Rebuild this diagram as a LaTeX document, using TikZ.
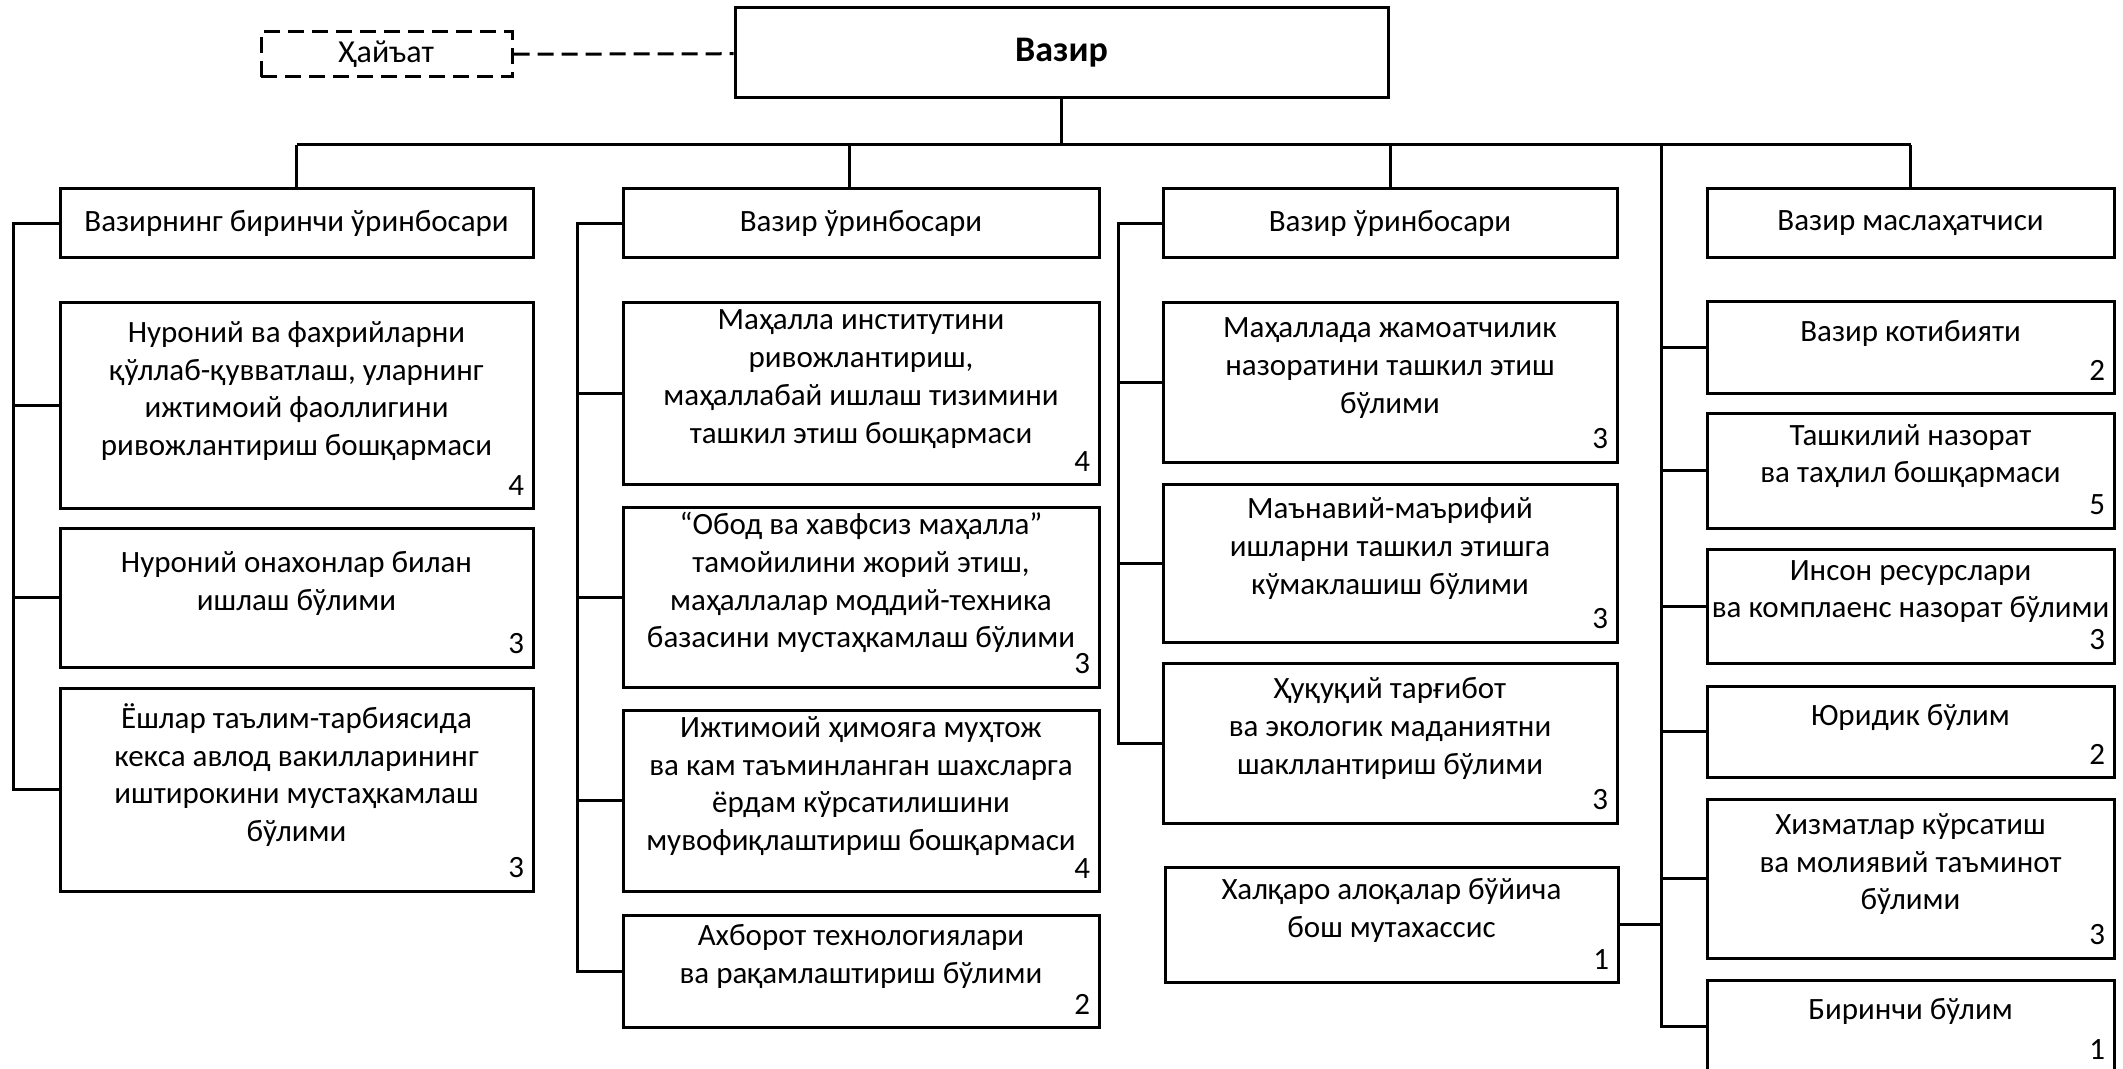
\documentclass[tikz,border=0pt]{standalone}
\usepackage{fontspec}
\setmainfont{Carlito}
\usetikzlibrary{positioning}

\newcommand{\unitsize}{\fontsize{15.5}{18.9}\selectfont}

\begin{document}
\begin{tikzpicture}[x=0.5pt,y=-0.5pt,
	unit/.style={draw, line width=1.5pt, align=center, inner sep=1.5pt, font=\unitsize},
	cnt/.style={label={[anchor=south east, inner xsep=5pt, inner ysep=7pt, font=\unitsize]south east:#1}},
	board/.style={draw, line width=1.5pt, dash pattern=on 8pt off 4pt, font=\fontsize{16}{19}\selectfont},
	link/.style={line width=1.5pt}]
		\useasboundingbox (0,0) rectangle (2123,1069);

		% top
		\draw (1061.5,53) node[unit, font=\fontsize{18}{21}\selectfont\bfseries, minimum width=326.5pt, minimum height=45pt] (vz) {Вазир}
		(386.5,54.5) node[board, minimum width=125.5pt, minimum height=22.5pt] (hy) {Ҳайъат};

		% deputies and advisor
		\draw (296.5,223.5) node[unit, minimum width=236.5pt, minimum height=34.5pt] (h1) {Вазирнинг биринчи ўринбосари}
		(861,223.5) node[unit, minimum width=238pt, minimum height=34.5pt] (h2) {Вазир ўринбосари}
		(1390,223.5) node[unit, minimum width=227pt, minimum height=34.5pt] (h3) {Вазир ўринбосари}
		(1910.5,223.5) node[unit, minimum width=203.5pt, minimum height=34.5pt] (h4) {Вазир маслаҳатчиси};

		% first deputy
		\draw (296.5,405.5) node[unit, cnt=4, minimum width=236.5pt, minimum height=102.5pt] (u11) {Нуроний ва фахрийларни\\қўллаб-қувватлаш, уларнинг\\ижтимоий фаоллигини\\ривожлантириш бошқармаси\\[-2pt]}
		(296.5,597.5) node[unit, cnt=3, minimum width=236.5pt, minimum height=69.5pt] (u12) {Нуроний онахонлар билан\\ишлаш бўлими\\[-2pt]}
		(296.5,789.5) node[unit, cnt=3, minimum width=236.5pt, minimum height=101.5pt] (u13) {Ёшлар таълим-тарбиясида\\кекса авлод вакилларининг\\иштирокини мустаҳкамлаш\\бўлими\\[-2pt]};

		% deputy
		\draw (861,393.5) node[unit, cnt=4, minimum width=238pt, minimum height=90.5pt] (u21) {Маҳалла институтини\\ривожлантириш,\\маҳаллабай ишлаш тизимини\\ташкил этиш бошқармаси\\[-2pt]}
		(861,597) node[unit, cnt=3, minimum width=238pt, minimum height=90pt] (u22) {“Обод ва хавфсиз маҳалла”\\тамойилини жорий этиш,\\маҳаллалар моддий-техника\\базасини мустаҳкамлаш бўлими\\[-2pt]}
		(861,800.5) node[unit, cnt=4, minimum width=238pt, minimum height=90.5pt] (u23) {Ижтимоий ҳимояга муҳтож\\ва кам таъминланган шахсларга\\ёрдам кўрсатилишини\\мувофиқлаштириш бошқармаси\\[-2pt]}
		(861,971) node[unit, cnt=2, minimum width=238pt, minimum height=56pt] (u24) {Ахборот технологиялари\\ва рақамлаштириш бўлими\\[-2pt]};

		% deputy
		\draw (1390,382.5) node[unit, cnt=3, minimum width=227pt, minimum height=79.5pt] (u31) {Маҳаллада жамоатчилик\\назоратини ташкил этиш\\бўлими\\[-2pt]}
		(1390,563) node[unit, cnt=3, minimum width=227pt, minimum height=79pt] (u32) {Маънавий-маърифий\\ишларни ташкил этишга\\кўмаклашиш бўлими\\[-2pt]}
		(1390,743) node[unit, cnt=3, minimum width=227pt, minimum height=80pt] (u33) {Ҳуқуқий тарғибот\\ва экологик маданиятни\\шакллантириш бўлими\\[-2pt]}
		(1391.5,924.5) node[unit, cnt=1, minimum width=226.5pt, minimum height=57.5pt] (u34) {Халқаро алоқалар бўйича\\бош мутахассис\\[-2pt]};

		% advisor
		\draw (1910.5,347.5) node[unit, cnt=2, minimum width=203.5pt, minimum height=45.5pt] (u41) {Вазир котибияти\\[-2pt]}
		(1910.5,470.5) node[unit, cnt=5, minimum width=203.5pt, minimum height=57.5pt] (u42) {Ташкилий назорат\\ва таҳлил бошқармаси\\[-2pt]}
		(1910.5,606) node[unit, cnt=3, minimum width=203.5pt, minimum height=57pt] (u43) {Инсон ресурслари\\ва комплаенс назорат бўлими\\[-2pt]}
		(1910.5,731.5) node[unit, cnt=2, minimum width=203.5pt, minimum height=45.5pt] (u44) {Юридик бўлим\\[-2pt]}
		(1910.5,878.5) node[unit, cnt=3, minimum width=203.5pt, minimum height=79.5pt] (u45) {Хизматлар кўрсатиш\\ва молиявий таъминот\\бўлими\\[-2pt]}
		(1910.5,1026) node[unit, cnt=1, minimum width=203.5pt, minimum height=46pt] (u46) {Биринчи бўлим\\[-2pt]};

		\coordinate (bus) at (1061.5,145);
		\coordinate (staff) at (1661,145);

		\draw[link, dash pattern=on 8pt off 4pt] (hy) -- (vz);
		\draw[link] (vz) -- (bus);
		\draw[link] (h1.north |- bus) -- (h4.north |- bus);
		\draw[link] (h1) -- (h1.north |- bus);
		\draw[link] ([xshift=-6pt]h2.north) -- ([xshift=-6pt]h2.north |- bus);
		\draw[link] (h3) -- (h3.north |- bus);
		\draw[link] (h4) -- (h4.north |- bus);

		\draw[link] (h1.west) -- ++(-45,0) |- (u13.west);
		\draw[link] (u11.west) -- ++(-45,0);
		\draw[link] (u12.west) -- ++(-45,0);

		\draw[link] (h2.west) -- ++(-44,0) |- (u24.west);
		\draw[link] (u21.west) -- ++(-44,0);
		\draw[link] (u22.west) -- ++(-44,0);
		\draw[link] (u23.west) -- ++(-44,0);

		\draw[link] (h3.west) -- ++(-43,0) |- (u33.west);
		\draw[link] (u31.west) -- ++(-43,0);
		\draw[link] (u32.west) -- ++(-43,0);

		\draw[link] (staff) |- (u46.west);
		\draw[link] (u34.east) -- (u34.east -| staff);
		\draw[link] (u41.west) -- (u41.west -| staff);
		\draw[link] (u42.west) -- (u42.west -| staff);
		\draw[link] (u43.west) -- (u43.west -| staff);
		\draw[link] (u44.west) -- (u44.west -| staff);
		\draw[link] (u45.west) -- (u45.west -| staff);
	\end{tikzpicture}
\end{document}
